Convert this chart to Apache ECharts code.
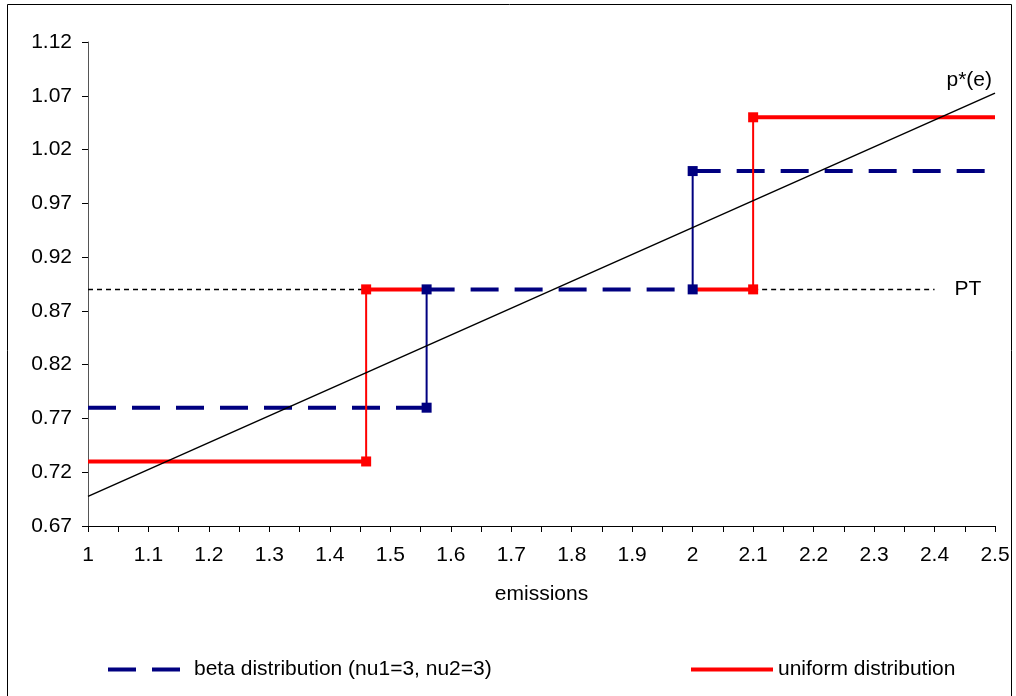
<!DOCTYPE html>
<html>
<head>
<meta charset="utf-8">
<script src="https://cdn.jsdelivr.net/npm/echarts@6/dist/echarts.min.js"></script>
<style>html,body{margin:0;padding:0;background:#fff}#c{width:1016px;height:696px}</style>
</head>
<body>
<div id="c"></div>
<script>
// ---- data ----
const yMin = 0.67, yMax = 1.12, yStep = 0.05;
const xMin = 1, xMax = 2.5, xStep = 0.1;
const pStarX = [1, 2.5];
const pStarY = [0.6975, 1.0725];
const ptLevel = 0.89;
const ptSegments = [[1, 1.46], [2.1, 2.4]];
// beta distribution (nu1=3, nu2=3)
const betaHoriz = [[1, 1.56, 0.78], [1.56, 2.0, 0.89], [2.0, 2.5, 1.0]];
const betaJumps = [[1.56, 0.78, 0.89], [2.0, 0.89, 1.0]];
// uniform distribution
const unifHoriz = [[1, 1.46, 0.73], [1.46, 1.56, 0.89], [2.0, 2.1, 0.89], [2.1, 2.5, 1.05]];
const unifJumps = [[1.46, 0.73, 0.89], [2.1, 0.89, 1.05]];
const betaName = 'beta distribution (nu1=3, nu2=3)';
const unifName = 'uniform distribution';

// ---- helpers ----
const Y = v => v - yMin;
function horizData(segs) {
  const d = [];
  segs.forEach((s, i) => {
    if (i > 0) d.push([s[0], '-']);
    d.push([s[0], Y(s[2])], [s[1], Y(s[2])]);
  });
  return d;
}
function jumpData(jumps) {
  const d = [];
  jumps.forEach((j, i) => {
    if (i > 0) d.push([j[0], '-']);
    d.push([j[0], Y(j[1])], [j[0], Y(j[2])]);
  });
  return d;
}
const ptData = horizData(ptSegments.map(s => [s[0], s[1], ptLevel]));

const FONT = 'Liberation Sans';
const FS = 21;
const NAVY = '#000080', RED = '#ff0000';

const chart = echarts.init(document.getElementById('c'));
chart.setOption({
  animation: false,
  backgroundColor: '#fff',
  textStyle: { fontFamily: FONT },
  grid: { left: 88, right: 21, top: 42, bottom: 170, containLabel: false },
  graphic: [{
    type: 'rect', silent: true,
    shape: { x: 7.5, y: 4.5, width: 1004, height: 700 },
    style: { fill: 'none', stroke: '#000', lineWidth: 1 }
  }],
  legend: [{
    data: [betaName], left: 106, top: 659, padding: 0, itemWidth: 81, itemHeight: 14, itemGap: 5,
    itemStyle: { opacity: 0 },
    lineStyle: { color: NAVY, width: 4, type: [28, 16] },
    textStyle: { fontFamily: FONT, fontSize: FS, color: '#000' }
  }, {
    data: [unifName], left: 689, top: 659, padding: 0, itemWidth: 82, itemHeight: 14, itemGap: 5,
    itemStyle: { opacity: 0 },
    lineStyle: { color: RED, width: 4, type: 'solid' },
    textStyle: { fontFamily: FONT, fontSize: FS, color: '#000' }
  }],
  xAxis: {
    type: 'value', min: xMin, max: xMax, interval: xStep,
    name: 'emissions', nameLocation: 'middle', nameGap: 58,
    nameTextStyle: { fontFamily: FONT, fontSize: FS, color: '#000' },
    axisLine: { lineStyle: { color: '#000', width: 1 } },
    axisTick: { show: true, length: 6, lineStyle: { color: '#000' } },
    minorTick: { show: true, splitNumber: 2, length: 6, lineStyle: { color: '#000' } },
    splitLine: { show: false },
    axisLabel: { margin: 19, fontFamily: FONT, fontSize: FS, color: '#000',
      formatter: v => String(+(+v).toFixed(1)) }
  },
  yAxis: {
    type: 'value', min: 0, max: +(yMax - yMin).toFixed(2), interval: yStep,
    axisLine: { show: true, lineStyle: { color: '#555', width: 1 } },
    axisTick: { show: true, length: 6, lineStyle: { color: '#000' } },
    splitLine: { show: false },
    axisLabel: { margin: 16, fontFamily: FONT, fontSize: FS, color: '#000',
      formatter: v => (v + yMin).toFixed(2) }
  },
  series: [{
    type: 'line', z: 1, silent: true, symbol: 'none', data: ptData,
    lineStyle: { color: '#000', width: 1.5, type: [5, 4] },
    endLabel: { show: true, formatter: 'PT', distance: 20, fontFamily: FONT, fontSize: FS, color: '#000' }
  }, {
    name: betaName, type: 'line', z: 2, symbol: 'none', data: horizData(betaHoriz),
    itemStyle: { color: NAVY },
    lineStyle: { color: NAVY, width: 4, type: [28, 16] }
  }, {
    name: unifName, type: 'line', z: 3, symbol: 'none', data: horizData(unifHoriz),
    itemStyle: { color: RED },
    lineStyle: { color: RED, width: 4 }
  }, {
    type: 'line', z: 4, symbol: 'rect', symbolSize: 10, data: jumpData(unifJumps),
    itemStyle: { color: RED }, lineStyle: { color: RED, width: 2 }
  }, {
    type: 'line', z: 5, symbol: 'rect', symbolSize: 10, data: jumpData(betaJumps),
    itemStyle: { color: NAVY }, lineStyle: { color: NAVY, width: 2 }
  }, {
    type: 'line', z: 6, symbol: 'none',
    data: pStarX.map((x, i) => [x, Y(pStarY[i])]),
    lineStyle: { color: '#000', width: 1.5 },
    endLabel: { show: true, formatter: 'p*(e)', distance: 0, align: 'right', verticalAlign: 'bottom',
      offset: [-3, -2], fontFamily: FONT, fontSize: FS, color: '#000' }
  }]
});
</script>
</body>
</html>
